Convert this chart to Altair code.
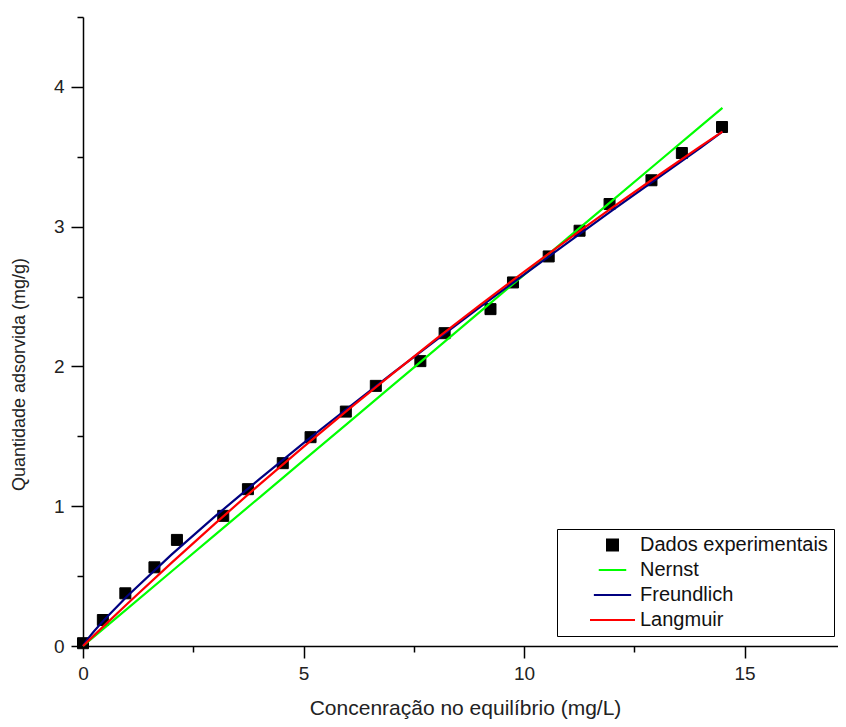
import altair as alt
import pandas as pd

FONT = "Liberation Sans"

# ---- data ----
SERIES = ["Dados experimentais", "Nernst", "Freundlich", "Langmuir"]
COLORS = ["#000000", "#00ff00", "#000080", "#ff0000"]
SHAPES = ["square", "stroke", "stroke", "stroke"]
SIZES = [121, 2025, 2025, 2025]

exp_x = [0.0, 0.45, 0.96, 1.62, 2.13, 3.18, 3.74, 4.53, 5.16, 5.96, 6.64,
         7.65, 8.20, 9.24, 9.75, 10.56, 11.26, 11.94, 12.89, 13.58, 14.49]
exp_y = [0.02, 0.186, 0.377, 0.563, 0.759, 0.931, 1.122, 1.308, 1.494, 1.677, 1.861,
         2.038, 2.238, 2.410, 2.601, 2.787, 2.971, 3.162, 3.332, 3.527, 3.713]

curve_x = [0, 0.1, 0.25, 0.5, 1, 2, 3, 4, 5, 6, 7, 8, 9, 10, 11, 12, 13, 14, 14.5]
nernst_y = [0, 0.027, 0.066, 0.133, 0.266, 0.531, 0.797, 1.062, 1.328, 1.593,
            1.859, 2.124, 2.390, 2.655, 2.921, 3.186, 3.452, 3.717, 3.850]
freundlich_y = [0, 0.048, 0.106, 0.194, 0.356, 0.652, 0.929, 1.194, 1.451, 1.701,
                1.947, 2.187, 2.424, 2.657, 2.888, 3.116, 3.341, 3.564, 3.680]
langmuir_y = [0, 0.031, 0.076, 0.151, 0.300, 0.593, 0.877, 1.155, 1.425, 1.688,
              1.944, 2.195, 2.439, 2.677, 2.909, 3.136, 3.357, 3.574, 3.680]

x_ticks = [0, 2.5, 5, 7.5, 10, 12.5, 15]
y_ticks = [0, 0.5, 1, 1.5, 2, 2.5, 3, 3.5, 4, 4.5]

df_pts = pd.DataFrame({"x": exp_x, "y": exp_y, "series": SERIES[0]})
df_lines = pd.concat([
    pd.DataFrame({"x": curve_x, "y": nernst_y, "series": SERIES[1]}),
    pd.DataFrame({"x": curve_x, "y": freundlich_y, "series": SERIES[2]}),
    pd.DataFrame({"x": curve_x, "y": langmuir_y, "series": SERIES[3]}),
], ignore_index=True)

xscale = alt.Scale(domain=[0, 17.12], nice=False, zero=False)
yscale = alt.Scale(domain=[0, 4.5], nice=False, zero=False)

common_axis = dict(
    grid=False, domainColor="black", tickColor="black", domainWidth=1.5,
    tickWidth=1.5, labelColor="#222", titleColor="#222", labelFont=FONT,
    titleFont=FONT, labelFontSize=19, titleFontWeight="normal",
    labelOverlap=False, labelFlush=False,
)

x_axis = alt.Axis(
    values=x_ticks,
    title="Concenração no equilíbrio (mg/L)",
    labelExpr="datum.value % 5 === 0 ? format(datum.value, 'd') : ''",
    tickSize={"condition": {"test": "datum.value % 5 === 0", "value": 12}, "value": 6},
    labelPadding=6, titleFontSize=21, titleY=68, titleX=382,
    titleBaseline="alphabetic",
    **common_axis,
)
y_axis = alt.Axis(
    values=y_ticks,
    title="Quantidade adsorvida (mg/g)",
    labelExpr="datum.value % 1 === 0 ? format(datum.value, 'd') : ''",
    tickSize={"condition": {"test": "datum.value % 1 === 0", "value": 12}, "value": 6},
    labelPadding=7, titleFontSize=18, titleX=-59, titleY=357,
    titleBaseline="alphabetic", titleAngle=270, titleAlign="center",
    **common_axis,
)

legend = alt.Legend(
    title=None, orient="none", legendX=474, legendY=512,
    strokeColor="black", fillColor="white", padding=6,
    labelFont=FONT, labelFontSize=20, labelColor="#111", labelLimit=400,
    symbolStrokeWidth=2, symbolOffset=26, labelOffset=4,
    clipHeight=20, rowPadding=5, symbolOpacity=1,
)

X = alt.X("x:Q", scale=xscale, axis=x_axis)
Y = alt.Y("y:Q", scale=yscale, axis=y_axis)
S = alt.Stroke("series:N", scale=alt.Scale(domain=SERIES, range=COLORS), legend=legend)
F = alt.Fill("series:N", scale=alt.Scale(domain=SERIES, range=COLORS), legend=legend)
SH = alt.Shape("series:N", scale=alt.Scale(domain=SERIES, range=SHAPES), legend=legend)
SZ = alt.Size("series:N", scale=alt.Scale(domain=SERIES, range=SIZES), legend=legend)

points = alt.Chart(df_pts).mark_point(filled=True, opacity=1, strokeWidth=1).encode(
    x=X, y=Y, fill=F, stroke=S, shape=SH, size=SZ)

def line(name):
    return alt.Chart(df_lines).transform_filter(
        alt.datum.series == name
    ).mark_line(strokeWidth=2.2).encode(x=X, y=Y, stroke=S)

chart = alt.layer(
    points, line("Nernst"), line("Freundlich"), line("Langmuir")
).properties(
    width=755, height=629,
    padding={"left": 75, "top": 9, "right": 0, "bottom": 73},
    autosize=alt.AutoSizeParams(type="none"),
).configure_view(stroke=None)

chart.save("out.html", embed_options={"renderer": "svg", "actions": False})
